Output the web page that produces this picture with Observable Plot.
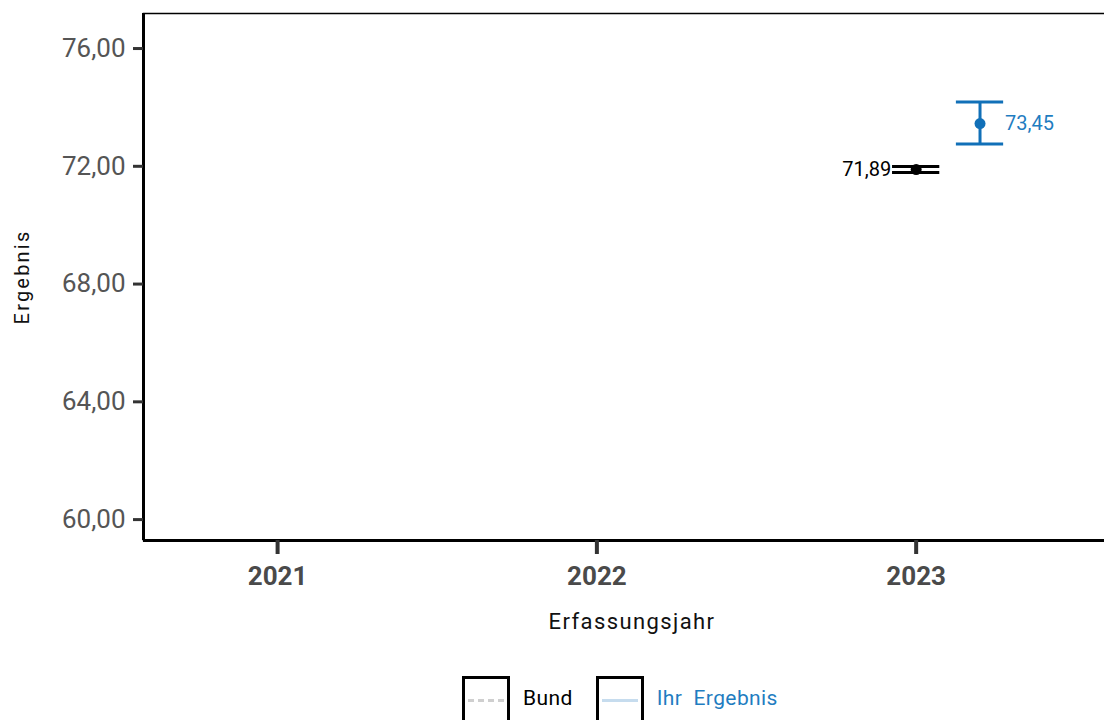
<!DOCTYPE html>
<html>
<head>
<meta charset="utf-8">
<script src="https://cdn.jsdelivr.net/npm/d3@7"></script>
<script src="https://cdn.jsdelivr.net/npm/@observablehq/plot@0.6"></script>
<style>
  html, body { margin: 0; padding: 0; background: #fff; overflow: hidden; width: 1104px; height: 720px; }
  #chart { width: 1104px; height: 660px; overflow: hidden; }
  #chart svg { display: block; max-width: none !important; font-family: Roboto, "Noto Sans", sans-serif; }
  .legend { display: flex; justify-content: flex-start; align-items: flex-start; margin-top: 16px; padding-left: 462px; font-family: Roboto, sans-serif; font-size: 21px; line-height: 24px; }
  .legend .item { display: flex; align-items: flex-start; margin-right: 23px; }
  .legend .item span { margin-top: 10px; letter-spacing: 0.4px; }
  .legend .box { width: 42px; height: 48px; border: 3px solid #000; position: relative; margin-right: 13px; box-sizing: content-box; }
  .legend .box .ln { position: absolute; left: 3px; right: 3px; top: 20px; height: 0; }
</style>
</head>
<body>
<div id="chart"></div>
<div class="legend" id="legend"></div>
<script>
// ---- data ----
const years = [2021, 2022, 2023];
const yTicks = [60, 64, 68, 72, 76];
const seriesNames = ["Bund", "Ihr Ergebnis"];
const legendLabels = ["Bund", "Ihr  Ergebnis"];
const seriesYears = [2023, 2023];
const seriesValues = [71.89, 73.45];
const seriesLower = [71.79, 72.76];
const seriesUpper = [71.99, 74.18];
const seriesColors = ["#000000", "#1170b8"];
const labelColors = ["#000000", "#1f7dc1"];
const xTitle = "Erfassungsjahr";
const yTitle = "Ergebnis";

// layout helpers
const dodge = {"Bund": 0, "Ihr Ergebnis": 0.2};
const capHalf = 0.074;
const xDomain = [2020.58, 2023.64];
const yDomain = [59.29, 77.19];

const rows = seriesNames.map((name, i) => ({
  name,
  x: seriesYears[i] + dodge[name],
  value: seriesValues[i],
  lower: seriesLower[i],
  upper: seriesUpper[i],
  color: seriesColors[i],
  labelColor: labelColors[i],
  label: seriesValues[i].toFixed(2).replace(".", ",")
}));
const caps = rows.flatMap(r => [
  {...r, cy: r.lower}, {...r, cy: r.upper}
]);

const fmt = d => d.toFixed(2).replace(".", ",");

const plot = Plot.plot({
  width: 1120,
  height: 660,
  marginLeft: 143,
  marginRight: 0,
  marginTop: 13,
  marginBottom: 120,
  style: {fontFamily: "Roboto, sans-serif", background: "#fff", maxWidth: "none"},
  x: {type: "linear", domain: xDomain},
  y: {domain: yDomain},
  marks: [
    Plot.frame({stroke: "#000", strokeWidth: 1.5}),
    Plot.ruleX([xDomain[0]], {stroke: "#000", strokeWidth: 3}),
    Plot.ruleY([yDomain[0]], {stroke: "#000", strokeWidth: 3}),
    Plot.axisY({
      ticks: yTicks, tickFormat: fmt, tickSize: 10, tickPadding: 8,
      strokeWidth: 3, stroke: "#333", color: "#555",
      fontSize: 26, label: null
    }),
    Plot.axisX({
      ticks: years, tickFormat: d => String(d), tickSize: 14, tickPadding: 12,
      strokeWidth: 4, stroke: "#333", color: "#4a4a4a",
      fontSize: 26, fontWeight: "bold", label: null
    }),
    Plot.text([xTitle], {frameAnchor: "bottom", dy: 81, lineAnchor: "middle", textAnchor: "middle", fontSize: 22, fill: "#111", text: d => d}),
    Plot.text([yTitle], {frameAnchor: "left", dx: -121, rotate: -90, textAnchor: "middle", lineAnchor: "middle", fontSize: 20, fill: "#111", text: d => d}),
    // error bars
    Plot.ruleX(rows, {x: "x", y1: "lower", y2: "upper", stroke: "color", strokeWidth: 3}),
    Plot.ruleY(caps, {y: "cy", x1: d => d.x - capHalf, x2: d => d.x + capHalf, stroke: "color", strokeWidth: 3}),
    Plot.dot(rows, {x: "x", y: "value", fill: "color", r: 5.5, stroke: null}),
    Plot.text(rows.filter(r => r.name === "Ihr Ergebnis"), {x: "x", y: "value", text: "label", fill: "labelColor", dx: 25, textAnchor: "start", fontSize: 20}),
    Plot.text(rows.filter(r => r.name === "Bund"), {x: "x", y: "value", text: "label", fill: "labelColor", dx: -25, textAnchor: "end", fontSize: 20})
  ]
});
document.getElementById("chart").appendChild(plot);

// widen axis titles a little to match the reference typeface
d3.select(plot).selectAll("text")
  .filter(function() { return this.textContent === xTitle; })
  .style("letter-spacing", "1.4px");
d3.select(plot).selectAll("text")
  .filter(function() { return this.textContent === yTitle; })
  .style("letter-spacing", "2.2px");

// legend
const legendStyles = {
  "Bund": {line: "border-top: 3px dashed #cfcfcf;", text: "#000"},
  "Ihr Ergebnis": {line: "border-top: 3px solid #c6dcee;", text: "#1f7dc1"}
};
const leg = document.getElementById("legend");
seriesNames.forEach((n, i) => {
  const item = document.createElement("div");
  item.className = "item";
  const box = document.createElement("div");
  box.className = "box";
  const ln = document.createElement("div");
  ln.className = "ln";
  ln.setAttribute("style", legendStyles[n].line);
  box.appendChild(ln);
  const t = document.createElement("span");
  t.textContent = legendLabels[i];
  t.style.color = legendStyles[n].text;
  t.style.whiteSpace = "pre";
  item.appendChild(box);
  item.appendChild(t);
  leg.appendChild(item);
});
</script>
</body>
</html>
